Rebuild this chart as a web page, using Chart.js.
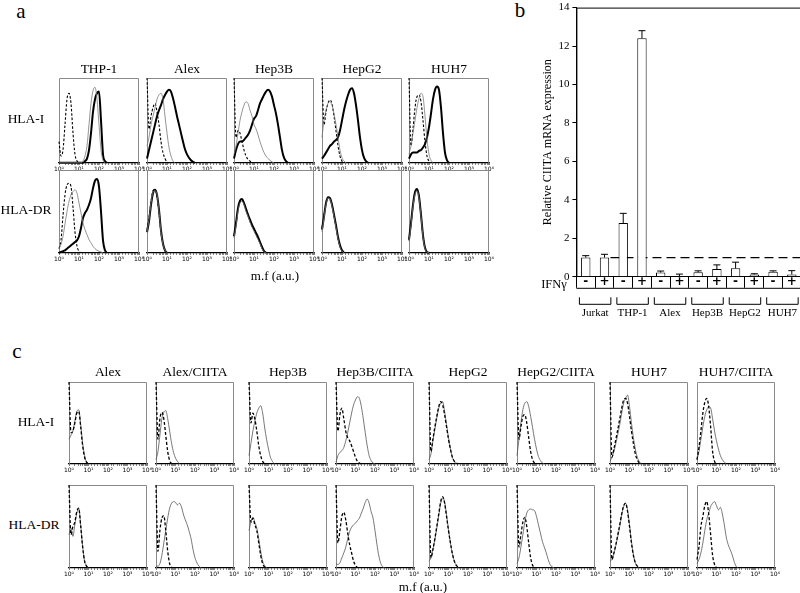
<!DOCTYPE html>
<html>
<head>
<meta charset="utf-8">
<script src="https://cdn.jsdelivr.net/npm/chart.js@4.4.1/dist/chart.umd.min.js"></script>
<style>
  body { margin: 0; background: #fff; }
  #page { position: relative; width: 800px; height: 593px; overflow: hidden; background: #fff;
          font-family: 'Liberation Serif', 'Times New Roman', serif; color: #000; }
  #page canvas { position: absolute; }
  .t { position: absolute; transform: translate(-50%, -50%); white-space: nowrap; line-height: 1; }
</style>
</head>
<body>
<div id="page"></div>
<script>
const SERIF = "'Liberation Serif', 'Times New Roman', serif";

// Histogram heights in % of the box, one value per bin of 0.1 decade, starting at 10^0
const BIN = 0.1;
const aCells = ['THP-1', 'Alex', 'Hep3B', 'HepG2', 'HUH7'];
const cCells = ['Alex', 'Alex/CIITA', 'Hep3B', 'Hep3B/CIITA', 'HepG2', 'HepG2/CIITA', 'HUH7', 'HUH7/CIITA'];
const rowNames = ['HLA-I', 'HLA-DR'];
const decadeLabels = ['10⁰', '10¹', '10²', '10³', '10⁴'];

// panel a, HLA-I  (iso = isotype, ctl = untreated, ifn = IFNγ treated)
const aI_THP1_iso = [25, 8, 15, 45, 75, 82, 70, 35, 10, 2, 0];
const aI_THP1_ctl = [0, 0, 0, 0, 0, 0, 0, 0, 0, 0, 0, 0, 2, 8, 20, 45, 70, 85, 89, 75, 45, 15, 3, 0];
const aI_THP1_ifn = [0, 0, 0, 0, 0, 0, 0, 0, 0, 0, 0, 0, 0, 2, 5, 15, 35, 60, 75, 82, 84, 50, 10, 2, 0];
const aI_Alex_iso = [100, 40, 55, 65, 70, 60, 45, 25, 12, 5, 1, 0];
const aI_Alex_ctl = [20, 30, 45, 55, 65, 75, 80, 82, 75, 55, 35, 18, 8, 2, 0];
const aI_Alex_ifn = [5, 15, 25, 35, 45, 55, 62, 68, 75, 80, 84, 86, 84, 76, 66, 55, 45, 35, 25, 16, 10, 6, 3, 1, 0];
const aI_Hep3B_iso = [100, 30, 38, 35, 25, 15, 8, 4, 2, 0];
const aI_Hep3B_ctl = [10, 20, 35, 50, 60, 68, 72, 70, 62, 55, 45, 40, 33, 25, 18, 12, 8, 5, 3, 1, 0];
const aI_Hep3B_ifn = [5, 15, 22, 25, 25, 27, 30, 33, 38, 45, 52, 55, 62, 70, 75, 80, 84, 86, 84, 78, 68, 58, 45, 30, 15, 6, 2, 0];
const aI_HepG2_iso = [100, 45, 60, 70, 74, 70, 55, 38, 20, 8, 2, 0];
const aI_HepG2_ctl = [30, 50, 62, 70, 72, 68, 58, 45, 30, 15, 6, 2, 0];
const aI_HepG2_ifn = [5, 8, 12, 16, 20, 22, 25, 27, 30, 38, 50, 62, 72, 80, 86, 88, 82, 68, 50, 30, 15, 6, 2, 0];
const aI_HUH7_iso = [100, 20, 40, 65, 78, 80, 72, 50, 25, 8, 2, 0];
const aI_HUH7_ctl = [10, 20, 35, 50, 65, 76, 82, 78, 55, 28, 10, 3, 0];
const aI_HUH7_ifn = [5, 10, 12, 12, 12, 14, 15, 18, 22, 30, 42, 58, 75, 86, 90, 86, 65, 35, 12, 3, 0];

// panel a, HLA-DR
const aDR_THP1_iso = [5, 15, 45, 70, 82, 84, 80, 55, 25, 8, 2, 0];
const aDR_THP1_ctl = [5, 10, 20, 35, 50, 62, 70, 74, 76, 72, 60, 48, 36, 28, 22, 16, 12, 8, 5, 3, 2, 1, 0];
const aDR_THP1_ifn = [0, 1, 2, 3, 5, 7, 9, 11, 13, 15, 20, 30, 42, 48, 52, 58, 66, 78, 87, 89, 80, 50, 15, 3, 0];
const aDR_Alex_iso = [28, 42, 62, 75, 76, 68, 48, 24, 10, 3, 0];
const aDR_Alex_ctl = [25, 40, 60, 73, 75, 70, 50, 25, 10, 3, 0];
const aDR_Alex_ifn = [25, 38, 58, 72, 76, 70, 52, 27, 11, 3, 0];
const aDR_Hep3B_iso = [20, 35, 52, 62, 64, 60, 52, 45, 38, 32, 28, 22, 17, 12, 6, 2, 0];
const aDR_Hep3B_ctl = [18, 32, 50, 60, 62, 58, 50, 44, 37, 31, 26, 21, 16, 11, 5, 1, 0];
const aDR_Hep3B_ifn = [20, 36, 54, 63, 65, 60, 53, 46, 40, 34, 29, 24, 19, 13, 7, 2, 0];
const aDR_HepG2_iso = [30, 45, 60, 67, 64, 58, 45, 32, 18, 8, 2, 0];
const aDR_HepG2_ctl = [25, 42, 58, 66, 65, 56, 44, 30, 17, 7, 2, 0];
const aDR_HepG2_ifn = [28, 44, 60, 67, 66, 58, 46, 33, 19, 9, 3, 0];
const aDR_HUH7_iso = [15, 35, 58, 72, 76, 68, 45, 20, 6, 1, 0];
const aDR_HUH7_ctl = [14, 33, 56, 70, 75, 66, 44, 19, 5, 1, 0];
const aDR_HUH7_ifn = [16, 36, 58, 73, 77, 68, 46, 21, 6, 1, 0];

// panel c, HLA-I  (iso = isotype, abs = specific antibody)
const cI_Alex_iso = [100, 38, 40, 50, 62, 64, 45, 22, 8, 2, 0];
const cI_Alex_abs = [30, 35, 40, 52, 64, 66, 48, 25, 10, 2, 0];
const cI_AlexCIITA_iso = [100, 30, 55, 63, 55, 35, 15, 4, 0];
const cI_AlexCIITA_abs = [5, 15, 35, 55, 63, 65, 55, 40, 25, 14, 7, 3, 0];
const cI_Hep3B_iso = [100, 50, 62, 55, 40, 22, 10, 3, 0];
const cI_Hep3B_abs = [10, 25, 40, 52, 62, 68, 71, 62, 45, 30, 18, 8, 3, 0];
const cI_Hep3BCIITA_iso = [100, 40, 60, 68, 55, 40, 32, 28, 22, 15, 8, 3, 1, 0];
const cI_Hep3BCIITA_abs = [2, 10, 14, 16, 20, 28, 38, 50, 62, 72, 78, 82, 80, 70, 55, 38, 22, 10, 4, 1, 0];
const cI_HepG2_iso = [100, 15, 30, 45, 58, 70, 76, 72, 60, 45, 30, 18, 8, 3, 1, 0];
const cI_HepG2_abs = [5, 12, 28, 42, 56, 68, 74, 76, 64, 48, 32, 18, 8, 3, 0];
const cI_HepG2CIITA_iso = [100, 30, 45, 58, 60, 50, 32, 15, 5, 1, 0];
const cI_HepG2CIITA_abs = [10, 30, 50, 66, 74, 76, 70, 58, 44, 30, 18, 9, 4, 1, 0];
const cI_HUH7_iso = [100, 8, 18, 30, 42, 55, 68, 78, 80, 74, 58, 40, 25, 12, 5, 1, 0];
const cI_HUH7_abs = [3, 8, 15, 25, 36, 48, 62, 74, 80, 84, 70, 50, 32, 18, 8, 3, 0];
const cI_HUH7CIITA_iso = [5, 20, 40, 62, 75, 80, 70, 45, 15, 3, 0];
const cI_HUH7CIITA_abs = [5, 15, 30, 45, 58, 66, 70, 68, 55, 40, 28, 18, 10, 5, 2, 0];

// panel c, HLA-DR
const cDR_Alex_iso = [100, 40, 50, 55, 68, 72, 50, 25, 8, 2, 0];
const cDR_Alex_abs = [40, 48, 38, 52, 66, 72, 52, 26, 8, 2, 0];
const cDR_AlexCIITA_iso = [100, 20, 45, 60, 63, 45, 20, 5, 0];
const cDR_AlexCIITA_abs = [2, 2, 5, 15, 30, 45, 60, 72, 78, 80, 79, 76, 78, 74, 65, 58, 52, 44, 35, 22, 12, 6, 2, 0];
const cDR_Hep3B_iso = [100, 55, 60, 52, 45, 30, 15, 5, 1, 0];
const cDR_Hep3B_abs = [45, 55, 61, 55, 48, 35, 20, 8, 3, 0];
const cDR_Hep3BCIITA_iso = [100, 30, 45, 62, 67, 58, 42, 28, 18, 8, 3, 0];
const cDR_Hep3BCIITA_abs = [5, 4, 6, 12, 18, 25, 35, 44, 49, 52, 54, 57, 60, 66, 72, 79, 83, 78, 68, 60, 45, 28, 14, 5, 1, 0];
const cDR_HepG2_iso = [100, 12, 22, 35, 50, 65, 80, 86, 78, 62, 45, 30, 17, 8, 3, 1, 0];
const cDR_HepG2_abs = [8, 12, 22, 34, 48, 63, 78, 84, 80, 64, 46, 30, 17, 8, 3, 0];
const cDR_HepG2CIITA_iso = [100, 25, 40, 55, 61, 50, 30, 12, 3, 0];
const cDR_HepG2CIITA_abs = [5, 12, 25, 40, 55, 66, 70, 71, 70, 69, 62, 52, 42, 32, 25, 18, 10, 4, 1, 0];
const cDR_HUH7_iso = [100, 10, 18, 28, 40, 52, 65, 75, 78, 68, 50, 30, 15, 6, 2, 0];
const cDR_HUH7_abs = [8, 10, 17, 27, 38, 50, 64, 74, 78, 70, 52, 32, 16, 6, 2, 0];
const cDR_HUH7CIITA_iso = [10, 25, 50, 62, 75, 80, 65, 40, 15, 4, 0];
const cDR_HUH7CIITA_abs = [5, 10, 18, 30, 45, 58, 66, 74, 78, 80, 75, 70, 73, 65, 52, 37, 28, 22, 16, 8, 2, 0];

// panel b: relative CIITA mRNA
const groups = ['Jurkat', 'THP-1', 'Alex', 'Hep3B', 'HepG2', 'HUH7'];
const ifnSigns = ['-', '+', '-', '+', '-', '+', '-', '+', '-', '+', '-', '+'];
const ciitaMean = [1.0, 1.0, 2.8, 12.4, 0.22, 0.03, 0.24, 0.4, 0.44, 0.12, 0.26, 0.12];
const ciitaErr = [0.1, 0.17, 0.5, 0.4, 0.08, 0.11, 0.07, 0.22, 0.32, 0.04, 0.05, 0.2];
const yMax = 14, yStep = 2;
const refLevel = 1;

// ---- helpers ----
const page = document.getElementById('page');

function label(text, x, y, size) {
  const d = document.createElement('div');
  d.className = 't';
  d.textContent = text;
  d.style.left = x + 'px';
  d.style.top = y + 'px';
  d.style.fontSize = size + 'px';
  page.appendChild(d);
}

// box around the plot area (bottom edge is the black axis)
const frame = {
  id: 'frame',
  beforeDatasetsDraw(chart, args, opts) {
    const { ctx, chartArea: a } = chart;
    ctx.save();
    ctx.strokeStyle = opts.color;
    ctx.lineWidth = opts.width;
    ctx.beginPath();
    ctx.moveTo(a.left + 0.5, a.bottom);
    ctx.lineTo(a.left + 0.5, a.top + 0.5);
    ctx.lineTo(a.right - 0.5, a.top + 0.5);
    ctx.lineTo(a.right - 0.5, a.bottom);
    ctx.stroke();
    ctx.restore();
  }
};

function decadeTick(v) {
  const e = Math.log10(v);
  const r = Math.round(e);
  return Math.abs(e - r) < 1e-6 ? decadeLabels[r] : '';
}

const ISO = { color: '#000', width: 1.1, dash: [2.5, 1.8] };
const CTL = { color: '#777', width: 0.8 };
const IFN = { color: '#000', width: 2 };
const ISO_C = { color: '#000', width: 1.3, dash: [3, 2] };
const ABS_C = { color: '#555', width: 0.8 };

function curve(values, style) {
  return {
    data: values.map((v, i) => ({ x: Math.pow(10, i * BIN), y: v })),
    borderColor: style.color,
    borderWidth: style.width,
    borderDash: style.dash || [],
    pointRadius: 0,
    fill: false,
    cubicInterpolationMode: 'monotone',
    clip: 4
  };
}

function histConfig(curves, styles) {
  return {
    type: 'line',
    data: { datasets: curves.map((v, k) => curve(v, styles[k])) },
    options: {
      responsive: false,
      animation: false,
      events: [],
      layout: { padding: { left: 8, right: 8, top: 2, bottom: 0 } },
      plugins: {
        legend: { display: false },
        tooltip: { enabled: false },
        frame: { color: '#8a8a8a', width: 1 }
      },
      scales: {
        x: {
          type: 'logarithmic',
          min: 1,
          max: 10000,
          grid: { drawOnChartArea: false, tickLength: 2, color: '#000', lineWidth: 0.6 },
          border: { color: '#000', width: 1.3 },
          ticks: {
            autoSkip: false, maxRotation: 0, padding: 1, color: '#000',
            font: { family: 'DejaVu Sans', size: 6 },
            callback: decadeTick
          }
        },
        y: { display: false, min: 0, max: 100 }
      }
    },
    plugins: [frame]
  };
}

function makeCanvas(w, h) {
  const c = document.createElement('canvas');
  c.width = Math.round(w);
  c.height = Math.round(h);
  page.appendChild(c);
  return c;
}

// build a chart, then resize once so its chart area matches the box, and place it
function fitChart(build, box, w0, h0) {
  let canvas = makeCanvas(w0, h0);
  let chart = new Chart(canvas, build());
  let a = chart.chartArea;
  const dw = Math.round(box.w - (a.right - a.left));
  const dh = Math.round(box.h - (a.bottom - a.top));
  if (dw !== 0 || dh !== 0) {
    chart.destroy();
    canvas.remove();
    canvas = makeCanvas(w0 + dw, h0 + dh);
    chart = new Chart(canvas, build());
    a = chart.chartArea;
  }
  canvas.style.left = (box.x - a.left) + 'px';
  canvas.style.top = (box.y - a.top) + 'px';
  return chart;
}

// ---- panel a ----
const aRows = [
  [[aI_THP1_iso, aI_THP1_ctl, aI_THP1_ifn], [aI_Alex_iso, aI_Alex_ctl, aI_Alex_ifn],
   [aI_Hep3B_iso, aI_Hep3B_ctl, aI_Hep3B_ifn], [aI_HepG2_iso, aI_HepG2_ctl, aI_HepG2_ifn],
   [aI_HUH7_iso, aI_HUH7_ctl, aI_HUH7_ifn]],
  [[aDR_THP1_iso, aDR_THP1_ctl, aDR_THP1_ifn], [aDR_Alex_iso, aDR_Alex_ctl, aDR_Alex_ifn],
   [aDR_Hep3B_iso, aDR_Hep3B_ctl, aDR_Hep3B_ifn], [aDR_HepG2_iso, aDR_HepG2_ctl, aDR_HepG2_ifn],
   [aDR_HUH7_iso, aDR_HUH7_ctl, aDR_HUH7_ifn]]
];
const aBoxX = [59, 147, 234, 322, 409], aBoxW = 80;
const aRowY = [78, 170], aRowH = [85, 83];

aRows.forEach((row, r) => {
  row.forEach((curves, k) => {
    const box = { x: aBoxX[k], y: aRowY[r], w: aBoxW, h: aRowH[r] };
    fitChart(() => histConfig([curves[1], curves[2], curves[0]], [CTL, IFN, ISO]), box, aBoxW + 16, aRowH[r] + 16);
  });
});

// ---- panel c ----
const cRows = [
  [[cI_Alex_iso, cI_Alex_abs], [cI_AlexCIITA_iso, cI_AlexCIITA_abs], [cI_Hep3B_iso, cI_Hep3B_abs],
   [cI_Hep3BCIITA_iso, cI_Hep3BCIITA_abs], [cI_HepG2_iso, cI_HepG2_abs], [cI_HepG2CIITA_iso, cI_HepG2CIITA_abs],
   [cI_HUH7_iso, cI_HUH7_abs], [cI_HUH7CIITA_iso, cI_HUH7CIITA_abs]],
  [[cDR_Alex_iso, cDR_Alex_abs], [cDR_AlexCIITA_iso, cDR_AlexCIITA_abs], [cDR_Hep3B_iso, cDR_Hep3B_abs],
   [cDR_Hep3BCIITA_iso, cDR_Hep3BCIITA_abs], [cDR_HepG2_iso, cDR_HepG2_abs], [cDR_HepG2CIITA_iso, cDR_HepG2CIITA_abs],
   [cDR_HUH7_iso, cDR_HUH7_abs], [cDR_HUH7CIITA_iso, cDR_HUH7CIITA_abs]]
];
const cBoxX = [69, 156, 249, 336, 429, 517, 610, 697], cBoxW = 78;
const cRowY = [382, 485], cRowH = [82, 83];

cRows.forEach((row, r) => {
  row.forEach((curves, k) => {
    const box = { x: cBoxX[k], y: cRowY[r], w: cBoxW, h: cRowH[r] };
    fitChart(() => histConfig([curves[0], curves[1]], [ISO_C, ABS_C]), box, cBoxW + 16, cRowH[r] + 16);
  });
});

// ---- panel b ----
const barExtras = {
  id: 'barExtras',
  beforeDatasetsDraw(chart) {
    const { ctx, chartArea: a, scales: { x, y } } = chart;
    const ry = y.getPixelForValue(refLevel);
    ctx.save();
    ctx.strokeStyle = '#000';
    ctx.lineWidth = 1.2;
    ctx.setLineDash([9, 5]);
    ctx.beginPath();
    ctx.moveTo(x.getPixelForValue(1) + 6, ry);
    ctx.lineTo(a.right, ry);
    ctx.stroke();
    ctx.restore();
  },
  afterDatasetsDraw(chart) {
    const { ctx, chartArea: a, scales: { x, y, x2 } } = chart;
    ctx.save();
    ctx.strokeStyle = '#000';
    ctx.lineWidth = 1;
    // error bars (upper only)
    ciitaMean.forEach((m, i) => {
      const px = x.getPixelForValue(i);
      const top = y.getPixelForValue(m + ciitaErr[i]);
      ctx.beginPath();
      ctx.moveTo(px, y.getPixelForValue(m));
      ctx.lineTo(px, top);
      ctx.moveTo(px - 3.5, top);
      ctx.lineTo(px + 3.5, top);
      ctx.stroke();
    });
    // bottom of the IFNγ sign row
    ctx.beginPath();
    ctx.moveTo(a.left, a.bottom + 11.5);
    ctx.lineTo(a.right, a.bottom + 11.5);
    ctx.stroke();
    // group brackets
    const half = x2.width / groups.length / 2 - 3;
    groups.forEach((g, i) => {
      const cx = x2.getPixelForValue(i);
      const b = a.bottom + 27.5;
      ctx.beginPath();
      ctx.moveTo(cx - half, b - 7);
      ctx.lineTo(cx - half, b);
      ctx.lineTo(cx + half, b);
      ctx.lineTo(cx + half, b - 7);
      ctx.stroke();
    });
    ctx.restore();
  }
};

function barConfig() {
  return {
    type: 'bar',
    data: {
      labels: ifnSigns,
      datasets: [{
        data: ciitaMean,
        backgroundColor: '#fff',
        borderColor: '#000',
        borderWidth: 1,
        barPercentage: 0.5,
        categoryPercentage: 1
      }]
    },
    options: {
      responsive: false,
      animation: false,
      events: [],
      layout: { padding: { left: 0, right: 1, top: 6, bottom: 0 } },
      plugins: {
        legend: { display: false },
        tooltip: { enabled: false },
        frame: { color: '#000', width: 1 }
      },
      scales: {
        x: {
          grid: { offset: true, drawOnChartArea: false, tickLength: 11, color: '#000', lineWidth: 1 },
          border: { color: '#000', width: 1 },
          ticks: {
            mirror: true, padding: -12.6, autoSkip: false, maxRotation: 0, color: '#000',
            font: { family: 'DejaVu Sans', size: 12, weight: 'bold' }
          }
        },
        x2: {
          type: 'category',
          labels: groups,
          position: 'bottom',
          offset: true,
          grid: { display: false },
          border: { display: false },
          ticks: { padding: 36, autoSkip: false, maxRotation: 0, minRotation: 0, color: '#000', font: { family: SERIF, size: 11 } }
        },
        y: {
          min: 0,
          max: yMax,
          ticks: { stepSize: yStep, padding: 3, color: '#000', font: { family: SERIF, size: 11 } },
          grid: { drawOnChartArea: false, tickLength: 4, color: '#000' },
          border: { color: '#000', width: 1 },
          title: {
            display: true,
            text: 'Relative CIITA mRNA expression',
            color: '#000',
            font: { family: SERIF, size: 12 },
            padding: { top: 0, bottom: 0 }
          }
        }
      }
    },
    plugins: [frame, barExtras]
  };
}

fitChart(barConfig, { x: 576, y: 8, w: 222, h: 269 }, 270, 360);

// ---- text ----
label('a', 21, 11, 21);
label('b', 520, 10, 21);
label('c', 17, 351, 21);

aCells.forEach((t, k) => label(t, aBoxX[k] + aBoxW / 2, 69, 13.5));
label(rowNames[0], 26, 119, 13.5);
label(rowNames[1], 26, 210, 13.5);
label('m.f (a.u.)', 275, 275, 13);

cCells.forEach((t, k) => label(t, cBoxX[k] + cBoxW / 2, 372, 13.5));
label(rowNames[0], 36, 422, 13.5);
label(rowNames[1], 34, 525, 13.5);
label('m.f (a.u.)', 423, 586, 13);

label('IFNγ', 554, 284, 12.5);
</script>
</body>
</html>
